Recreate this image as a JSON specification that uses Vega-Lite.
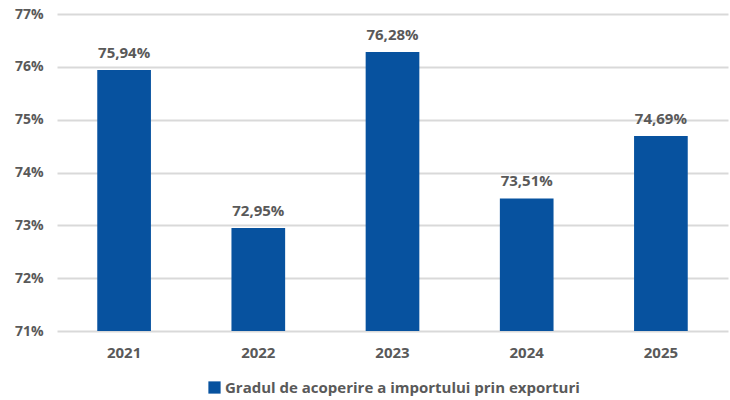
{
  "$schema": "https://vega.github.io/schema/vega-lite/v6.json",
  "width": 671,
  "height": 317,
  "autosize": {"type": "none"},
  "padding": {"left": 57, "top": 14, "right": 2, "bottom": 69},
  "background": "white",
  "config": {
    "locale": {"number": {"decimal": ",", "thousands": ".", "grouping": [3], "currency": ["", " €"]}},
    "view": {"stroke": null},
    "font": "Open Sans",
    "axis": {"labelFont": "Open Sans", "labelFontWeight": "bold", "labelColor": "#595959", "labelFontSize": 14}
  },
  "data": {
    "values": [
      {"an": "2021", "valoare": 0.7594, "serie": "Gradul de acoperire a importului prin exporturi"},
      {"an": "2022", "valoare": 0.7295, "serie": "Gradul de acoperire a importului prin exporturi"},
      {"an": "2023", "valoare": 0.7628, "serie": "Gradul de acoperire a importului prin exporturi"},
      {"an": "2024", "valoare": 0.7351, "serie": "Gradul de acoperire a importului prin exporturi"},
      {"an": "2025", "valoare": 0.7469, "serie": "Gradul de acoperire a importului prin exporturi"}
    ]
  },
  "encoding": {
    "x": {
      "field": "an", "type": "nominal", "title": null,
      "scale": {"paddingInner": 0.6, "paddingOuter": 0.3},
      "axis": {"labelAngle": 0, "domain": false, "ticks": false, "labelPadding": 14, "grid": false, "labelFontSize": 15}
    },
    "y": {
      "field": "valoare", "type": "quantitative", "title": null,
      "scale": {"domain": [0.71, 0.77], "nice": false, "zero": false},
      "axis": {"format": ".0%", "values": [0.71, 0.72, 0.73, 0.74, 0.75, 0.76, 0.77], "domain": false, "ticks": false, "labelPadding": 14, "gridColor": "#d9d9d9", "gridWidth": 2}
    }
  },
  "layer": [
    {
      "mark": {"type": "bar", "clip": true},
      "encoding": {
        "y2": {"datum": 0.71},
        "color": {
          "field": "serie", "type": "nominal", "title": null,
          "scale": {"range": ["#07529f"]},
          "legend": {"orient": "none", "legendX": 150, "legendY": 366, "symbolType": "square", "symbolSize": 150, "symbolStrokeWidth": 0, "labelFont": "Open Sans", "labelFontWeight": "bold", "labelFontSize": 15, "labelColor": "#595959", "labelLimit": 500, "symbolOffset": 0, "labelOffset": 3}
        }
      }
    },
    {
      "mark": {"type": "text", "baseline": "bottom", "dy": -9, "font": "Open Sans", "fontWeight": "bold", "fontSize": 15, "color": "#595959"},
      "encoding": {
        "text": {"field": "valoare", "type": "quantitative", "format": ".2%"}
      }
    }
  ]
}
